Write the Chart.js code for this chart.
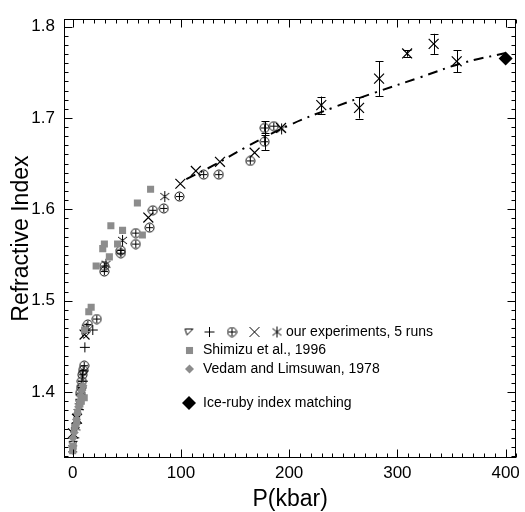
<!DOCTYPE html>
<html><head><meta charset="utf-8">
<script src="https://cdn.jsdelivr.net/npm/chart.js@4/dist/chart.umd.min.js"></script>
<style>html,body{margin:0;padding:0;background:#fff}#wrap{width:525px;height:512px}</style>
</head><body><div id="wrap"><canvas id="c" width="525" height="512"></canvas></div>
<script>
// ---------- data ----------
const xTicks = [0, 100, 200, 300, 400];
const yTicks = [1.4, 1.5, 1.6, 1.7, 1.8];
const xTitle = 'P(kbar)';
const yTitle = 'Refractive Index';
const legendLabels = ['our experiments, 5 runs', 'Shimizu et al., 1996', 'Vedam and Limsuwan, 1978', 'Ice-ruby index matching'];

const fitP = [105, 130, 160, 200, 240, 280, 320, 360, 400];
const fitN = [1.633, 1.648, 1.668, 1.692, 1.711, 1.728, 1.744, 1.760, 1.771];

const triP = [0.5, 2.5, 4.5, 6.5, 8.5, 10.5, 12];
const triN = [1.343, 1.358, 1.373, 1.389, 1.404, 1.420, 1.462];

const plusP = [1.5, 3.5, 5.5, 7.5, 9.5, 11.3, 18.6];
const plusN = [1.350, 1.366, 1.381, 1.397, 1.412, 1.449, 1.468];

const circP = [7, 7.8, 8.5, 9, 9.7, 10.7, 14, 22.3, 29.3, 29.3, 44.5, 44.5, 58.3, 58.3, 71.1, 74.1, 84.2, 98.6, 121, 135, 164.1, 177.3, 177.3, 185.8];
const circN = [1.399, 1.405, 1.412, 1.419, 1.424, 1.429, 1.474, 1.480, 1.538, 1.532, 1.555, 1.552, 1.574, 1.562, 1.580, 1.599, 1.601, 1.614, 1.638, 1.638, 1.653, 1.689, 1.674, 1.691];
const circErr = [null, null, null, null, null, null, null, null, null, null, null, null, null, null, null, null, null, null, null, null, null, 0.0075, 0.009, null];

const crossP = [0.3, 4, 11, 69.9, 99.5, 113.8, 136.1, 168.1, 192.5, 229.7, 264.6, 283.1, 309, 333.5, 354.8];
const crossN = [1.355, 1.371, 1.463, 1.591, 1.628, 1.642, 1.652, 1.662, 1.689, 1.714, 1.711, 1.743, 1.7705, 1.781, 1.762];
const crossErr = [null, null, null, null, null, null, null, null, null, 0.0094, 0.0117, 0.019, 0.0035, 0.011, 0.012];

const starP = [0, 3, 6, 12.5, 30.8, 46.1, 85.1, 193];
const starN = [1.338, 1.362, 1.384, 1.470, 1.540, 1.566, 1.614, 1.688];

const shimizuP = [0, 0.5, 2.1, 3.7, 4.6, 6.7, 8, 10.7, 11, 14.9, 17.1, 21.7, 27.8, 29.3, 33.9, 35.3, 41.5, 46.1, 59.8, 64.4, 72];
const shimizuN = [1.336, 1.341, 1.362, 1.369, 1.378, 1.387, 1.390, 1.394, 1.468, 1.488, 1.493, 1.538, 1.557, 1.562, 1.548, 1.582, 1.562, 1.577, 1.607, 1.572, 1.622];

const vedamP = [0.3, 1.5, 2.5, 3.5, 4.5, 5.5, 6.5, 7.5, 8.5, 9.5];
const vedamN = [1.350, 1.356, 1.363, 1.370, 1.377, 1.384, 1.390, 1.396, 1.402, 1.407];

const rubyP = [400];
const rubyN = [1.765];

// ---------- styles ----------
const FONT = '"Liberation Sans", Arial, Helvetica, sans-serif';
const GRAY = '#8c8c8c';
function mk(w, h, fn) { const c = document.createElement('canvas'); c.width = w; c.height = h; const g = c.getContext('2d'); g.strokeStyle = '#000'; g.lineWidth = 1; fn(g); return c; }
const circPlus = mk(11, 11, g => { g.beginPath(); g.arc(5.5, 5.5, 4.5, 0, Math.PI * 2); g.stroke(); g.beginPath(); g.moveTo(5.5, 2); g.lineTo(5.5, 9); g.moveTo(2, 5.5); g.lineTo(9, 5.5); g.stroke(); });
const asterisk = mk(13, 13, g => { g.beginPath(); g.moveTo(6.5, 1); g.lineTo(6.5, 12); g.moveTo(2, 3); g.lineTo(11, 10); g.moveTo(11, 3); g.lineTo(2, 10); g.stroke(); });
const triDown = mk(11, 11, g => { g.beginPath(); g.moveTo(1.5, 2.5); g.lineTo(9.5, 2.5); g.lineTo(3.5, 8.5); g.closePath(); g.stroke(); });

const pts = (xs, ys) => xs.map((x, i) => ({ x: x, y: ys[i] }));

const extras = {
  id: 'extras',
  afterDatasetsDraw(chart) {
    const ctx = chart.ctx, xs = chart.scales.x, ys = chart.scales.y, a = chart.chartArea;
    ctx.save();
    // error bars
    chart.data.datasets.forEach(ds => {
      if (!ds.errs) return;
      ctx.strokeStyle = '#000'; ctx.lineWidth = 1;
      ds.data.forEach((p, i) => {
        const e = ds.errs[i]; if (e == null) return;
        const px = Math.round(xs.getPixelForValue(p.x)) + 0.5;
        const y1 = ys.getPixelForValue(p.y + e), y2 = ys.getPixelForValue(p.y - e);
        ctx.beginPath();
        ctx.moveTo(px, y1); ctx.lineTo(px, y2);
        ctx.moveTo(px - 4, Math.round(y1) + 0.5); ctx.lineTo(px + 4, Math.round(y1) + 0.5);
        ctx.moveTo(px - 4, Math.round(y2) + 0.5); ctx.lineTo(px + 4, Math.round(y2) + 0.5);
        ctx.stroke();
      });
    });
    // box
    ctx.strokeStyle = '#000'; ctx.lineWidth = 1;
    const L = Math.round(a.left) + 0.5, R = Math.round(a.right) - 0.5, T = Math.round(a.top) + 0.5, B = Math.round(a.bottom) - 0.5;
    ctx.strokeRect(L, T, R - L, B - T);
    ctx.beginPath();
    for (let i = 0; i <= 41; i++) {
      const v = i * 10; if (v > xs.max) break;
      const px = Math.round(xs.getPixelForValue(v)) + 0.5;
      const len = (v % 100 === 0) ? 8 : 4;
      ctx.moveTo(px, B); ctx.lineTo(px, B - len);
      ctx.moveTo(px, T); ctx.lineTo(px, T + len);
    }
    for (let i = 133; i <= 180; i++) {
      const v = i / 100;
      const py = Math.round(ys.getPixelForValue(v)) + 0.5;
      const len = (i % 10 === 0) ? 8 : 4;
      ctx.moveTo(L, py); ctx.lineTo(L + len, py);
      ctx.moveTo(R, py); ctx.lineTo(R - len, py);
    }
    ctx.stroke();
    // legend
    const H = Chart.helpers;
    ctx.font = '14px ' + FONT; ctx.textBaseline = 'middle'; ctx.textAlign = 'left';
    ctx.fillStyle = '#000'; ctx.strokeStyle = '#000'; ctx.lineWidth = 1;
    const r1 = 332;
    H.drawPoint(ctx, { pointStyle: triDown, radius: 5, rotation: 0, borderWidth: 1 }, 189, r1);
    H.drawPoint(ctx, { pointStyle: 'cross', radius: 5, rotation: 0, borderWidth: 1 }, 209.5, r1);
    H.drawPoint(ctx, { pointStyle: circPlus, radius: 5, rotation: 0, borderWidth: 1 }, 232, r1);
    H.drawPoint(ctx, { pointStyle: 'crossRot', radius: 7, rotation: 0, borderWidth: 1 }, 254.5, r1);
    H.drawPoint(ctx, { pointStyle: asterisk, radius: 5, rotation: 0, borderWidth: 1 }, 277, r1);
    ctx.fillStyle = '#000';
    ctx.fillText(legendLabels[0], 286, r1);
    ctx.fillStyle = GRAY; ctx.strokeStyle = GRAY;
    H.drawPoint(ctx, { pointStyle: 'rect', radius: 5, rotation: 0, borderWidth: 0 }, 189.5, 350.5);
    H.drawPoint(ctx, { pointStyle: 'rectRot', radius: 4.5, rotation: 0, borderWidth: 0 }, 189.5, 369);
    ctx.fillStyle = '#000'; ctx.strokeStyle = '#000';
    H.drawPoint(ctx, { pointStyle: 'rectRot', radius: 7, rotation: 0, borderWidth: 0 }, 189, 403);
    ctx.fillStyle = '#000';
    ctx.fillText(legendLabels[1], 203, 350.5);
    ctx.fillText(legendLabels[2], 203, 369);
    ctx.fillText(legendLabels[3], 203, 403);
    ctx.restore();
  }
};

new Chart(document.getElementById('c'), {
  type: 'scatter',
  data: {
    datasets: [
      { label: 'fit', type: 'line', data: pts(fitP, fitN), borderColor: '#000', borderWidth: 2, borderDash: [10, 6, 2, 6], pointRadius: 0, tension: 0.4, fill: false, order: 0 },
      { label: 'Shimizu', data: pts(shimizuP, shimizuN), pointStyle: 'rect', radius: 5, backgroundColor: GRAY, borderColor: GRAY, borderWidth: 0 },
      { label: 'Vedam', data: pts(vedamP, vedamN), pointStyle: 'rectRot', radius: 4.5, backgroundColor: GRAY, borderColor: GRAY, borderWidth: 0 },
      { label: 'tri', data: pts(triP, triN), pointStyle: triDown, radius: 5, borderColor: '#000', borderWidth: 1 },
      { label: 'plus', data: pts(plusP, plusN), pointStyle: 'cross', radius: 5, borderColor: '#000', borderWidth: 1 },
      { label: 'circ', data: pts(circP, circN), errs: circErr, pointStyle: circPlus, radius: 6, borderColor: '#000', borderWidth: 1 },
      { label: 'x', data: pts(crossP, crossN), errs: crossErr, pointStyle: 'crossRot', radius: 7, borderColor: '#000', borderWidth: 1.2 },
      { label: 'star', data: pts(starP, starN), pointStyle: asterisk, radius: 6, borderColor: '#000', borderWidth: 1 },
      { label: 'ruby', data: pts(rubyP, rubyN), pointStyle: 'rectRot', radius: 7, backgroundColor: '#000', borderColor: '#000', borderWidth: 0 }
    ]
  },
  options: {
    responsive: false, animation: false, devicePixelRatio: 1,
    layout: { padding: { top: 7, right: 5, left: 0, bottom: 0 } },
    plugins: { legend: { display: false }, tooltip: { enabled: false } },
    scales: {
      x: {
        type: 'linear', min: -8, max: 410,
        grid: { display: false, drawTicks: false }, border: { display: false },
        afterBuildTicks: s => { s.ticks = xTicks.map(v => ({ value: v })); },
        afterFit: s => { s.height = 54; },
        ticks: { color: '#000', padding: 5, maxRotation: 0, font: { family: FONT, size: 17 } },
        title: { display: true, text: xTitle, color: '#000', padding: { top: 0, bottom: 0 }, font: { family: FONT, size: 23, lineHeight: 1.1 } }
      },
      y: {
        type: 'linear', min: 1.328, max: 1.808,
        grid: { display: false, drawTicks: false }, border: { display: false },
        afterBuildTicks: s => { s.ticks = yTicks.map(v => ({ value: v })); },
        afterFit: s => { s.width = 64; },
        ticks: { color: '#000', padding: 9, font: { family: FONT, size: 17 }, callback: v => v.toFixed(1) },
        title: { display: true, text: yTitle, color: '#000', padding: { top: 9, bottom: 0 }, font: { family: FONT, size: 23, lineHeight: 1.1 } }
      }
    }
  },
  plugins: [extras]
});
</script>
</body></html>
